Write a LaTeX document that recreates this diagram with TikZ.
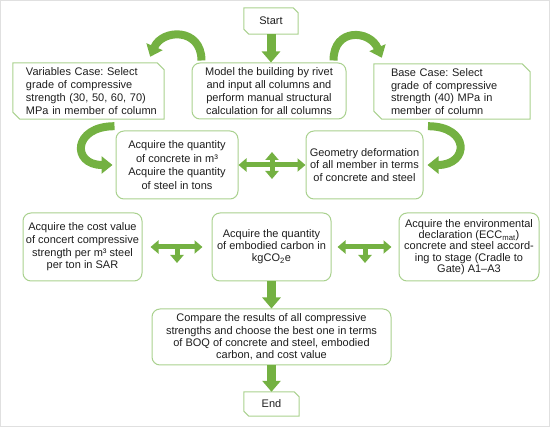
\documentclass[tikz,border=0pt]{standalone}
\usepackage{fontspec}
\setmainfont{Liberation Sans}
\usetikzlibrary{arrows.meta,calc}
\definecolor{arrowgreen}{RGB}{116,177,66}
\definecolor{boxgreen}{RGB}{169,209,142}
\definecolor{txt}{RGB}{30,30,30}
\newcommand\snipbox[2]{\draw[boxline] (#1.north west) -- ([xshift=-#2]#1.north east) -- ([yshift=-#2]#1.north east) -- (#1.south east) -- ([xshift=#2]#1.south west) -- ([yshift=#2]#1.south west) -- cycle;}
\begin{document}
\frenchspacing
\hyphenpenalty=10000
\begin{tikzpicture}[x=1pt,y=-1pt,
  every node/.style={font=\fontsize{11}{12.8}\selectfont, text=txt, inner sep=0pt},
  rbox/.style={draw=boxgreen, line width=1pt, rounded corners=8pt, fill=white, align=center},
  sbox/.style={align=center},
  lbox/.style={align=left},
  boxline/.style={draw=boxgreen, line width=1pt},
  blockarrow/.style={draw=arrowgreen, line width=9pt, -{Triangle[width=18pt,length=11pt]}},
  dblarrow/.style={draw=arrowgreen, line width=5pt, {Triangle[width=13pt,length=8pt]}-{Triangle[width=13pt,length=8pt]}},
  stemarrow/.style={draw=arrowgreen, line width=5pt, -{Triangle[width=13pt,length=8pt]}},
  curvearrow/.style={draw=arrowgreen, line width=8pt, -{Triangle[width=17pt,length=11pt]}}]
\useasboundingbox (0,0) rectangle (550,427);
\draw[black!12, line width=1pt] (0.5,0.5) rectangle (549.5,426.5);

% boxes
\node[sbox, minimum width=54pt, minimum height=26pt] (start) at (271,21) {Start};
\snipbox{start}{5pt}
\node[rbox, minimum width=154pt, minimum height=56pt] (model) at (269,91)
  {Model the building by rivet\\and input all columns and\\perform manual structural\\calculation for all columns};
\node[lbox, text width=145pt, inner xsep=3pt, minimum height=56pt] (var) at (88.5,91)
  {\hspace*{10pt}Variables Case: Select\\\hspace*{10pt}grade of compressive\\\hspace*{10pt}strength (30, 50, 60, 70)\\\hspace*{10pt}MPa in member of column};
\snipbox{var}{7pt}
\node[lbox, text width=122pt, inner xsep=17pt, minimum height=55pt] (base) at (452,91.5)
  {Base Case: Select\\grade of compressive\\strength (40) MPa in\\member of column};
\snipbox{base}{8pt}
\node[rbox, minimum width=122pt, minimum height=68pt, font=\fontsize{11}{13.4}\selectfont] (qty) at (177,165)
  {Acquire the quantity\\of concrete in m³\\Acquire the quantity\\of steel in tons};
\node[rbox, minimum width=117pt, minimum height=68pt, font=\fontsize{11}{12.2}\selectfont] (geo) at (364.5,165)
  {Geometry deformation\\of all member in terms\\of concrete and steel};
\node[rbox, minimum width=119pt, minimum height=68pt, font=\fontsize{11}{12.6}\selectfont] (cost) at (82.5,247)
  {Acquire the cost value\\of concert compressive\\strength per m³ steel\\per ton in SAR};
\node[rbox, minimum width=119pt, minimum height=68pt, font=\fontsize{11}{12}\selectfont] (emb) at (271.5,247)
  {Acquire the quantity\\of embodied carbon in\\kgCO\textsubscript{2}e};
\node[rbox, minimum width=140pt, minimum height=68pt, font=\fontsize{11}{11.3}\selectfont] (env) at (469,247)
  {Acquire the environmental\\declaration (ECC\textsubscript{mat})\\concrete and steel accord-\\ing to stage (Cradle to\\Gate) A1–A3};
\node[rbox, minimum width=239pt, minimum height=56pt, font=\fontsize{11}{12.4}\selectfont] (comp) at (271.5,337)
  {Compare the results of all compressive\\strengths and choose the best one in terms\\of BOQ of concrete and steel, embodied\\carbon, and cost value};
\node[sbox, minimum width=55pt, minimum height=24pt] (end) at (271.5,404) {End};
\snipbox{end}{5pt}

% straight block arrows
\draw[blockarrow] (start.south) -- (start.south |- model.north);
\draw[blockarrow] (emb.south) -- (comp.north);
\draw[blockarrow] (comp.south) -- (end.north);

% cross arrow
\draw[dblarrow] (qty.east) -- (geo.west);
\coordinate (cross) at ($(qty.east)!0.5!(geo.west)$);
\draw[dblarrow] ([yshift=13pt]cross) -- ([yshift=-14pt]cross);

% T arrows
\draw[dblarrow, shorten <=8pt, shorten >=9pt] (cost.east) -- (emb.west);
\coordinate (tl) at ($(cost.east)!0.5!(emb.west)$);
\draw[stemarrow] (tl) -- ([yshift=-16pt]tl);
\draw[dblarrow, shorten <=6pt, shorten >=7pt] (emb.east) -- (env.west);
\coordinate (tr) at ($(emb.east)!0.5!(env.west)$);
\draw[stemarrow] (tr) -- ([yshift=-16pt]tr);

% curved arrows
\draw[curvearrow] ([xshift=10pt,yshift=2pt]model.north west) .. controls +(0,-33) and +(12,-28) .. ([xshift=-14pt,yshift=6pt]var.north east);
\draw[curvearrow] ([xshift=-13pt,yshift=2pt]model.north east) .. controls +(0,-33) and +(-12,-28) .. ([xshift=8pt,yshift=6pt]base.north west);
\draw[curvearrow] ([xshift=26pt,yshift=-7pt]var.south) .. controls +(-42,0) and +(-41,0) .. ([xshift=-3pt]qty.west);
\draw[curvearrow] ([xshift=-24pt,yshift=-7pt]base.south) .. controls +(42,0) and +(42,0) .. ([xshift=4pt]geo.east);
\end{tikzpicture}
\end{document}
